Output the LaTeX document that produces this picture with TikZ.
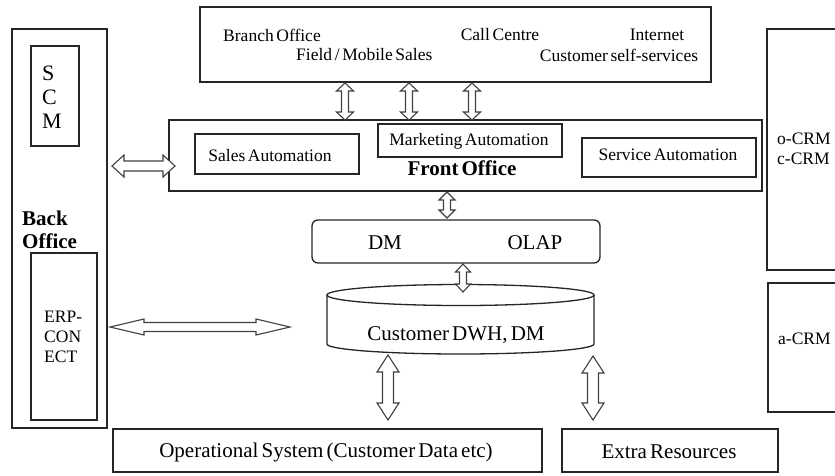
\documentclass[tikz,border=0pt]{standalone}
\usepackage{fontspec}
\setmainfont[WordSpace=0.6]{Liberation Serif}
\usetikzlibrary{calc,fit}

\tikzset{
  box/.style={draw=black!85, line width=1.3pt, inner sep=0pt},
  rbox/.style={box, rounded corners=6pt},
  txt/.style={inner sep=0pt, font=\rmfamily\fontsize{17.5}{20}\selectfont},
  btxt/.style={inner sep=0pt, font=\rmfamily\fontsize{21}{24}\selectfont},
  hdr/.style={inner sep=0pt, font=\rmfamily\fontsize{21}{24}\selectfont\bfseries},
  % hollow double-headed arrow: #1 head length, #2 head half-width, #3 shaft half-width
  link/.style n args={3}{draw=black!75, line width=1.1pt, fill=white, line join=miter,
    to path={
      -- ($(\tikztostart)!#1!(\tikztotarget)!#2!90:(\tikztotarget)$)
      -- ($(\tikztostart)!#1!(\tikztotarget)!#3!90:(\tikztotarget)$)
      -- ($(\tikztotarget)!#1!(\tikztostart)!#3!90:(\tikztotarget)$)
      -- ($(\tikztotarget)!#1!(\tikztostart)!#2!90:(\tikztotarget)$)
      -- (\tikztotarget)
      -- ($(\tikztotarget)!#1!(\tikztostart)!#2!-90:(\tikztotarget)$)
      -- ($(\tikztotarget)!#1!(\tikztostart)!#3!-90:(\tikztotarget)$)
      -- ($(\tikztostart)!#1!(\tikztotarget)!#3!-90:(\tikztotarget)$)
      -- ($(\tikztostart)!#1!(\tikztotarget)!#2!-90:(\tikztotarget)$)
      -- cycle}},
}

\begin{document}
\begin{tikzpicture}[x=1pt, y=-1pt]
\useasboundingbox (0,0) rectangle (835,475);
\clip (0,0) rectangle (835,475);

% contact channels
\node[box, fit={(200,7) (711,82)}] (chan) {};
\node[txt] (branch) at (272,35) {Branch Office};
\node[txt, anchor=west] (field) at (296,55) {Field / Mobile Sales};
\node[txt] (call) at (500,35) {Call Centre};
\node[txt] (inet) at (657,35) {Internet};
\node[txt] (self) at (619,55) {Customer self-services};

% back office
\node[box, fit={(12,29) (107,428)}] (back) {};
\node[box, fit={(31,46) (79,146)}] (scm) {};
\node[anchor=north west, inner sep=0pt, align=left,
      font=\rmfamily\fontsize{22}{24}\selectfont] (scmt) at (42,66) {S\\C\\M};
\node[hdr, anchor=west] (backt1) at (22,218) {Back};
\node[hdr, anchor=west] (backt2) at (22,241) {Office};
\node[box, fit={(31,253) (97,420)}] (erp) {};
\node[txt, align=left, anchor=west] (erpt) at (44,337) {ERP-\\CON\\ECT};

% front office
\node[box, fit={(169,120) (762,191)}] (front) {};
\node[box, fit={(195,134) (359,174)}] (sales) {};
\node[txt] at (270,156) (salest) {Sales Automation};
\node[box, fit={(378,124) (562,157)}] (mkt) {};
\node[txt] at (469,141) (mktt) {Marketing Automation};
\node[box, fit={(582,138) (756,177)}] (serv) {};
\node[txt] at (668,155) (servt) {Service Automation};
\node[hdr] (frontt) at (462,168) {Front Office};

% data marts / OLAP
\node[rbox, fit={(312,220) (600,263)}] (dm) {};
\node[btxt] (dmt) at (385,243) {DM};
\node[btxt] (olap) at (535,243) {OLAP};

% customer data warehouse
\draw[draw=black!85, line width=1.3pt, fill=white]
  (327,295) -- (327,344) arc[start angle=180, end angle=360, x radius=133.5pt, y radius=10pt]
  -- (594,295);
\draw[draw=black!85, line width=1.3pt]
  (460.5,295) ellipse[x radius=133.5pt, y radius=10.5pt];
\node[btxt] (dwh) at (456,335) {Customer DWH, DM};

% sources
\node[box, fit={(113,429) (542,472)}] (op) {};
\node[btxt] (opt) at (326,452) {Operational System (Customer Data etc)};
\node[box, fit={(562,429) (778,472)}] (extra) {};
\node[btxt] (extrat) at (669,452) {Extra Resources};

% CRM categories
\node[box, fit={(767,29) (850,270)}] (ocrm) {};
\node[txt, anchor=west, align=left] (ocrmt) at (777,149) {o-CRM\\c-CRM};
\node[box, fit={(768,283) (850,412)}] (acrm) {};
\node[txt, anchor=west] (acrmt) at (778,339) {a-CRM};

% arrow end points
\coordinate (a1s) at (345,83);   \coordinate (a1e) at (345,120);
\coordinate (a2s) at (409,83);   \coordinate (a2e) at (409,120);
\coordinate (a3s) at (472,83);   \coordinate (a3e) at (472,120);
\coordinate (a4s) at (112,166);  \coordinate (a4e) at (175,166);
\coordinate (a5s) at (447,192);  \coordinate (a5e) at (447,218);
\coordinate (a6s) at (463,264);  \coordinate (a6e) at (463,292);
\coordinate (a7s) at (110,327);  \coordinate (a7e) at (290,327);
\coordinate (a8s) at (388,355);  \coordinate (a8e) at (388,420);
\coordinate (a9s) at (593,356);  \coordinate (a9e) at (593,420);

% links
\draw[link={8pt}{8.5pt}{3.5pt}] (a1s) to (a1e);
\draw[link={8pt}{8.5pt}{3.5pt}] (a2s) to (a2e);
\draw[link={8pt}{8.5pt}{3.5pt}] (a3s) to (a3e);
\draw[link={12pt}{11pt}{5pt}] (a4s) to (a4e);
\draw[link={8pt}{8pt}{3.5pt}] (a5s) to (a5e);
\draw[link={8pt}{7.5pt}{3.5pt}] (a6s) to (a6e);
\draw[link={34pt}{8pt}{4.5pt}] (a7s) to (a7e);
\draw[link={17pt}{11pt}{5.5pt}] (a8s) to (a8e);
\draw[link={17pt}{11pt}{5.5pt}] (a9s) to (a9e);
\end{tikzpicture}
\end{document}
